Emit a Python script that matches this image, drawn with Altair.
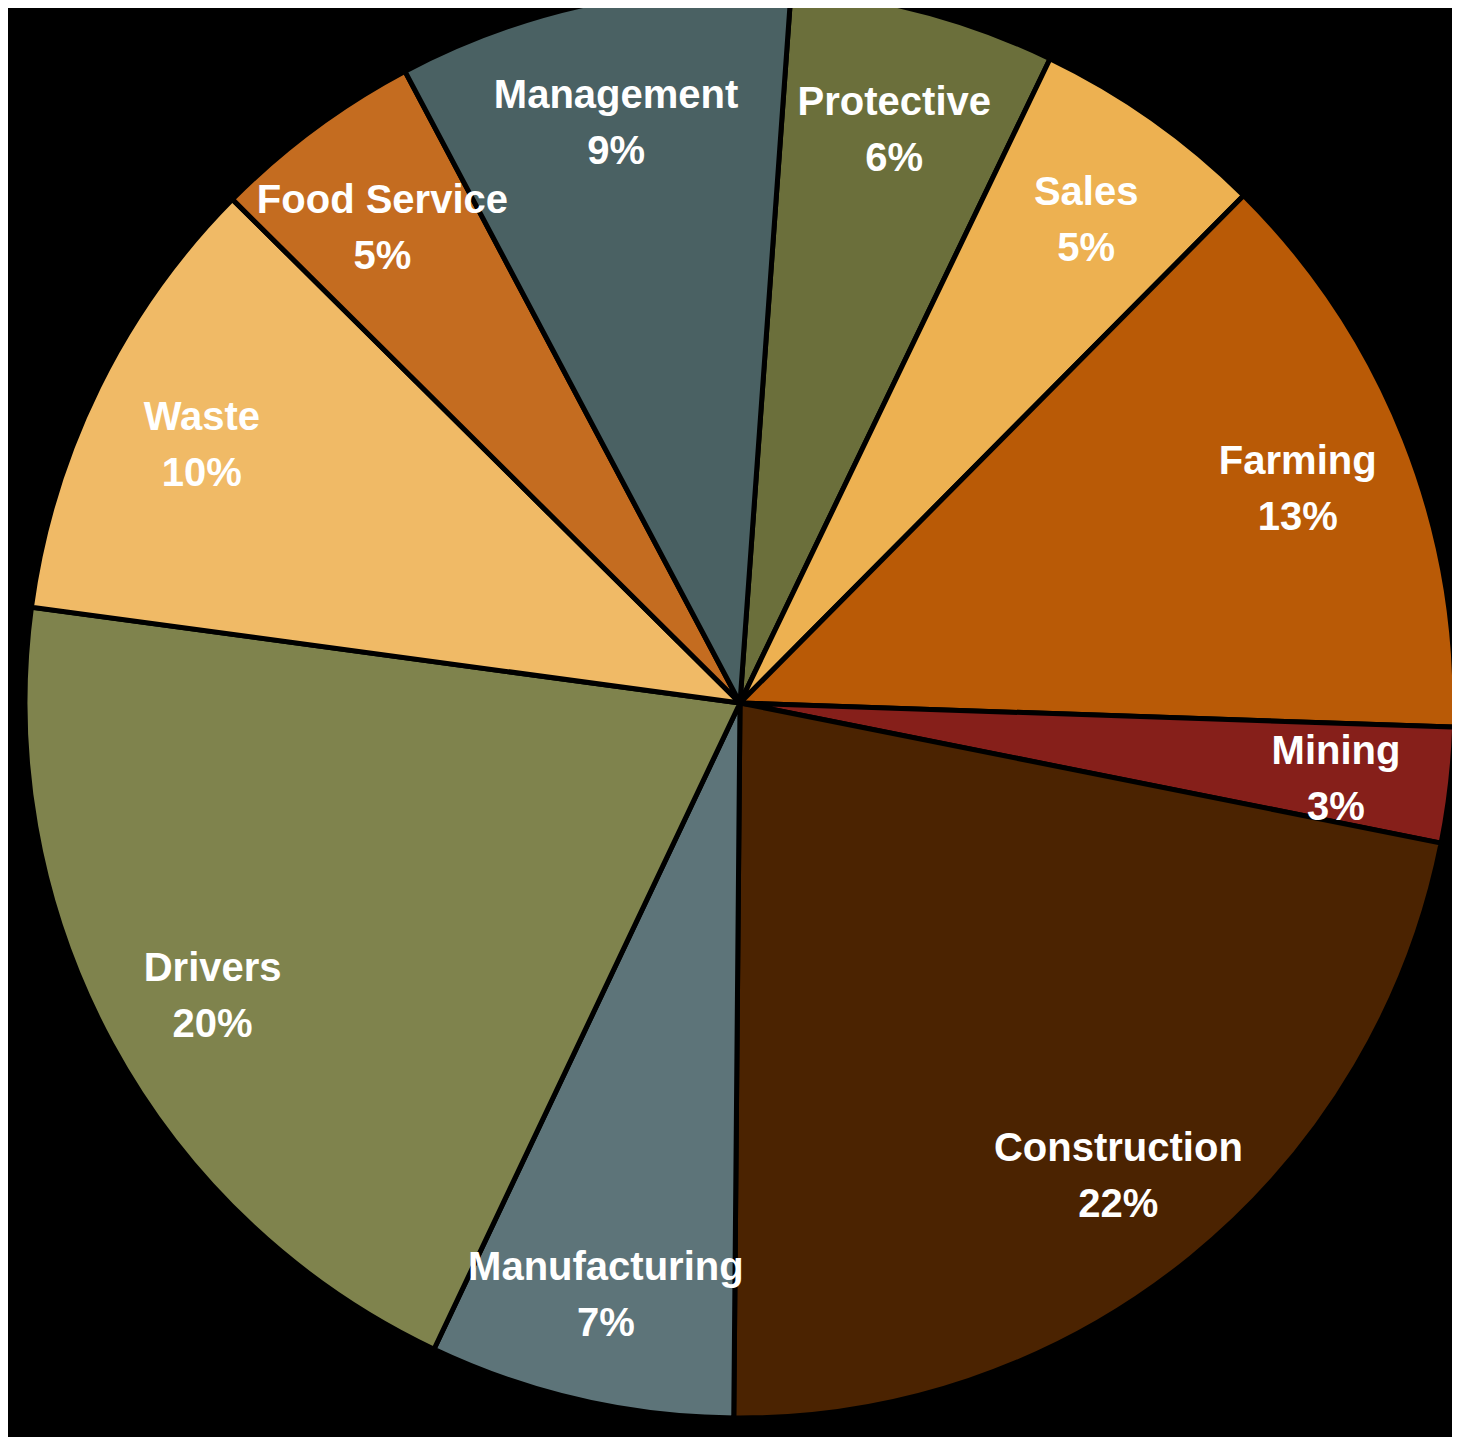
import math
import altair as alt
import pandas as pd

categories = ["Protective", "Sales", "Farming", "Mining", "Construction",
              "Manufacturing", "Drivers", "Waste", "Food Service", "Management"]
values = [6.0, 5.3, 13.1, 2.6, 22.0, 6.9, 20.1, 10.3, 4.8, 8.9]
pct_labels = ["6%", "5%", "13%", "3%", "22%", "7%", "20%", "10%", "5%", "9%"]
colors = ["#6B6F3B", "#EDB151", "#B95A06", "#861F1A", "#4B2301",
          "#5D7479", "#7F834D", "#F0BA66", "#C46C20", "#4A6163"]

df = pd.DataFrame({
    "category": categories,
    "value": values,
    "label": [f"{c}\n{p}" for c, p in zip(categories, pct_labels)],
    "idx": list(range(len(categories))),
})

start = math.radians(4.1)
theta = alt.Theta("value:Q", stack=True,
                  scale=alt.Scale(range=[start, start + 2 * math.pi]))

cx, cy = 732, 695

base = alt.Chart(df).encode(
    theta=theta,
    order=alt.Order("idx:Q"),
    x=alt.value(cx),
    y=alt.value(cy),
)

arcs = base.mark_arc(outerRadius=715, stroke="#000000", strokeWidth=5).encode(
    color=alt.Color("category:N", legend=None,
                    scale=alt.Scale(domain=categories, range=colors)),
)

texts = base.mark_text(radius=600, dy=-20, fontSize=40, fontWeight="bold",
                       font="Liberation Sans", color="white",
                       lineBreak="\n", lineHeight=56, align="center",
                       baseline="middle").encode(
    text="label:N",
)

chart = alt.layer(arcs, texts).properties(
    width=1444, height=1429, background="#000000", padding=0,
    autosize=alt.AutoSizeParams(type="none"),
).configure_view(stroke=None)

chart.save("out.html", embed_options={"renderer": "svg", "actions": False})
